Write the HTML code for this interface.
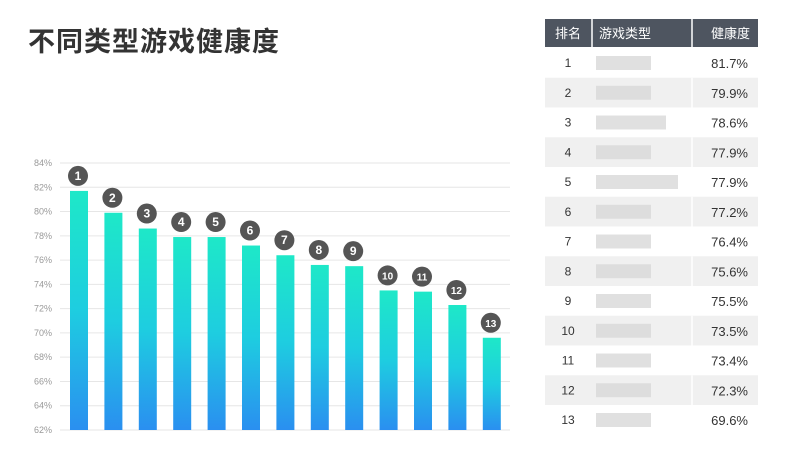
<!DOCTYPE html>
<html><head><meta charset="utf-8"><style>
body{margin:0;width:800px;height:464px;background:#fff;font-family:"Liberation Sans","Noto Sans CJK SC",sans-serif;overflow:hidden;position:relative}
#title{position:absolute;left:28px;top:20px;font-size:27px;font-weight:bold;color:#333;letter-spacing:1px;font-family:"Noto Sans CJK SC",sans-serif}
svg{position:absolute;left:0;top:0}
</style></head><body>
<div id="title">不同类型游戏健康度</div>
<svg id="chart" width="800" height="464">
<defs><linearGradient id="g" x1="0" y1="0" x2="0" y2="1"><stop offset="0" stop-color="#1ee8c8"/><stop offset="0.5" stop-color="#1ecde0"/><stop offset="1" stop-color="#2a8ff0"/></linearGradient></defs>
</svg>
<script>
const ranks=["1","2","3","4","5","6","7","8","9","10","11","12","13"];
const values=[81.7,79.9,78.6,77.9,77.9,77.2,76.4,75.6,75.5,73.5,73.4,72.3,69.6];
const labels=["81.7%","79.9%","78.6%","77.9%","77.9%","77.2%","76.4%","75.6%","75.5%","73.5%","73.4%","72.3%","69.6%"];
const ticks=[62,64,66,68,70,72,74,76,78,80,82,84];
const blurW=[55,55,70,55,82,55,55,55,55,55,55,55,55];
const NS="http://www.w3.org/2000/svg";
const svg=document.getElementById('chart');
function el(t,a,p){const e=document.createElementNS(NS,t);for(const k in a)e.setAttribute(k,a[k]);(p||svg).appendChild(e);return e;}
const y=v=>430-(v-62)*(267/22);
const x=i=>79+i*34.4;
ticks.forEach(t=>{
 const l=el('line',{x1:60,x2:510,y1:y(t),y2:y(t),stroke:'#e6e6e6','stroke-width':1});
 
 const tx=el('text',{x:34,y:y(t)+3,'font-size':9,fill:'#999'});tx.textContent=t+'%';
 
});
values.forEach((v,i)=>{
 const b=el('rect',{x:x(i)-9,y:y(v),width:18,height:430-y(v),fill:'url(#g)'});
 
 const c=el('circle',{cx:x(i)-1,cy:y(v)-15,r:10,fill:'#555'});
 
 const t=el('text',{x:x(i)-1,y:y(v)-11,'font-size':ranks[i].length>1?10:12,'font-weight':'bold',fill:'#fff','text-anchor':'middle'});t.textContent=ranks[i];
 
});
// table
const hdr=el('rect',{x:545,y:19,width:213,height:28,fill:'#4e5560'});

[[592],[692]].forEach(a=>{const l=el('line',{x1:a[0],x2:a[0],y1:19,y2:47,stroke:'#fff','stroke-width':1.5});});
[["排名",568,'middle'],["游戏类型",599,'start'],["健康度",750,'end']].forEach(h=>{
 const t=el('text',{x:h[1],y:38,'font-size':13,fill:'#fff','text-anchor':h[2],'font-family':'Noto Sans CJK SC,sans-serif'});t.textContent=h[0];
 
});
ranks.forEach((r,i)=>{
 const cy=63+i*29.75;
 if(i%2==1){const bg=el('rect',{x:545,y:cy-15,width:213,height:29.75,fill:'#f0f0f0'});}
 const bl=el('rect',{x:596,y:cy-7,width:blurW[i],height:14,fill:'#d8d8d8',opacity:0.8});
 
 const t1=el('text',{x:568,y:cy+4,'font-size':12,fill:'#333','text-anchor':'middle'});t1.textContent=r;
 
 const t2=el('text',{x:748,y:cy+5,'font-size':13,fill:'#333','text-anchor':'end'});t2.textContent=labels[i];
 
 const l=el('line',{x1:692,x2:692,y1:cy-15,y2:cy+15,stroke:'#fff','stroke-width':1.5});
});
</script>
</body></html>
